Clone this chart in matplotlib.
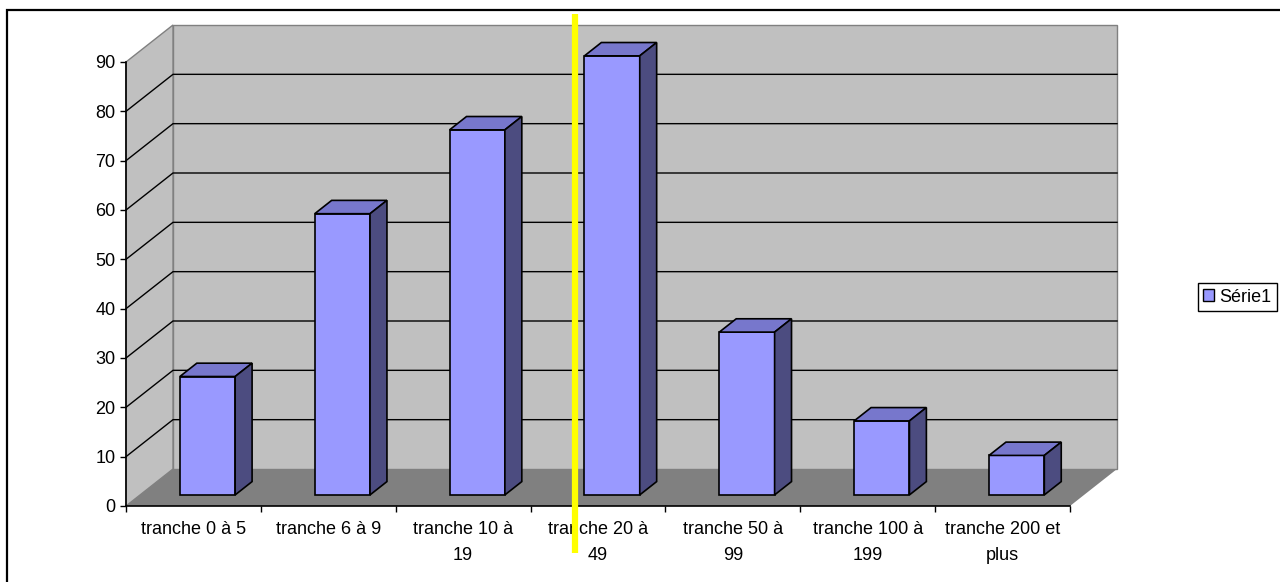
import numpy as np
import matplotlib
matplotlib.use('Agg')
import matplotlib.pyplot as plt
from matplotlib.patches import Polygon, Rectangle

plt.rcParams['font.family'] = ['Liberation Sans', 'DejaVu Sans']

# data
categories = ['tranche 0 à 5', 'tranche 6 à 9', 'tranche 10 à\n19', 'tranche 20 à\n49',
              'tranche 50 à\n99', 'tranche 100 à\n199', 'tranche 200 et\nplus']
values = [24, 57, 74, 89, 33, 15, 8]
series_name = 'Série1'
y_ticks = list(range(0, 100, 10))
marker_x = 3.33  # position of the yellow vertical line, in category units

# 3d look: depth offsets in data units
DX, DY = 0.3485, 7.5
FRONT = 0.3        # depth of bar front face
BAR_DEPTH = 0.36
BAR_W = 0.41

face_col = '#9999FF'
top_col = '#7777CC'
side_col = '#4C4C80'
wall_col = '#C0C0C0'
floor_col = '#808080'

fig = plt.figure(figsize=(12.8, 5.82), dpi=100)
ax = fig.add_axes([126 / 1280, 76 / 582, 944 / 1280, 444 / 582])
ax.set_xlim(0, len(categories))
ax.set_ylim(0, 90)
ax.patch.set_visible(False)
for s in ['top', 'right']:
    ax.spines[s].set_visible(False)
ymax = y_ticks[-1]
n = len(categories)

# walls and floor
ax.add_patch(Polygon([(DX, DY), (n + DX, DY), (n + DX, ymax + DY), (DX, ymax + DY)],
                     closed=True, fc=wall_col, ec='#808080', lw=1, zorder=0, clip_on=False))
ax.add_patch(Polygon([(0, 0), (DX, DY), (DX, ymax + DY), (0, ymax)],
                     closed=True, fc=wall_col, ec='#808080', lw=1, zorder=0, clip_on=False))
ax.add_patch(Polygon([(0, 0), (n, 0), (n + DX, DY), (DX, DY)],
                     closed=True, fc=floor_col, ec='none', zorder=0.5, clip_on=False))

# gridlines on side and back wall
for v in y_ticks[1:-1]:
    ax.plot([0, DX, n + DX], [v, v + DY, v + DY], color='black', lw=1, zorder=0.6, clip_on=False)

# bars
fx = FRONT * DX
fy = FRONT * DY
bx = BAR_DEPTH * DX
by = BAR_DEPTH * DY
xs = np.arange(n) + 0.5 + fx
ax.bar(xs, values, width=BAR_W, bottom=fy, color=face_col, edgecolor='black',
       linewidth=1.2, zorder=3, clip_on=False)
for x, v in zip(xs, values):
    l, r = x - BAR_W / 2, x + BAR_W / 2
    t = v + fy
    ax.add_patch(Polygon([(l, t), (r, t), (r + bx, t + by), (l + bx, t + by)], closed=True,
                         fc=top_col, ec='black', lw=1.2, zorder=3, clip_on=False))
    ax.add_patch(Polygon([(r, fy), (r + bx, fy + by), (r + bx, t + by), (r, t)], closed=True,
                         fc=side_col, ec='black', lw=1.2, zorder=3, clip_on=False))

# axes ticks
ax.set_yticks(y_ticks)
ax.tick_params(axis='y', direction='out', length=4.5, width=1, labelsize=13, pad=3)
ax.set_xticks(np.arange(n + 1))
ax.set_xticklabels([])
ax.tick_params(axis='x', which='major', direction='out', length=4.5, width=1)
ax.set_xticks(np.arange(n) + 0.5, minor=True)
ax.set_xticklabels(categories, minor=True, fontsize=13, linespacing=1.65)
ax.tick_params(axis='x', which='minor', length=0, pad=11)
ax.spines['left'].set_linewidth(1.2)
ax.spines['bottom'].set_linewidth(1.2)
ax.spines['left'].set_zorder(2)
ax.spines['bottom'].set_zorder(2)

# yellow marker line
ax.plot([marker_x, marker_x], [-9.5, 99.7], color='#FFFF00', lw=4.5, zorder=10,
        clip_on=False, solid_capstyle='butt')

# legend
leg = ax.legend([Rectangle((0, 0), 1, 1, fc=face_col, ec='black', lw=1)], [series_name],
                loc='center left', bbox_to_anchor=(1198 / 1280, 1 - 297 / 582),
                bbox_transform=fig.transFigure, borderaxespad=0, fancybox=False,
                edgecolor='black', framealpha=1, fontsize=13, handlelength=0.6,
                handleheight=0.6, handletextpad=0.3, borderpad=0.3)
leg.get_frame().set_linewidth(1)

# outer border of the chart area
fig.patches.append(Rectangle((7 / 1280, -0.01), 1.1, 1 - 10 / 582 + 0.01,
                             transform=fig.transFigure, fill=False, ec='black', lw=1.6))

fig.savefig('out.png', dpi=100)
